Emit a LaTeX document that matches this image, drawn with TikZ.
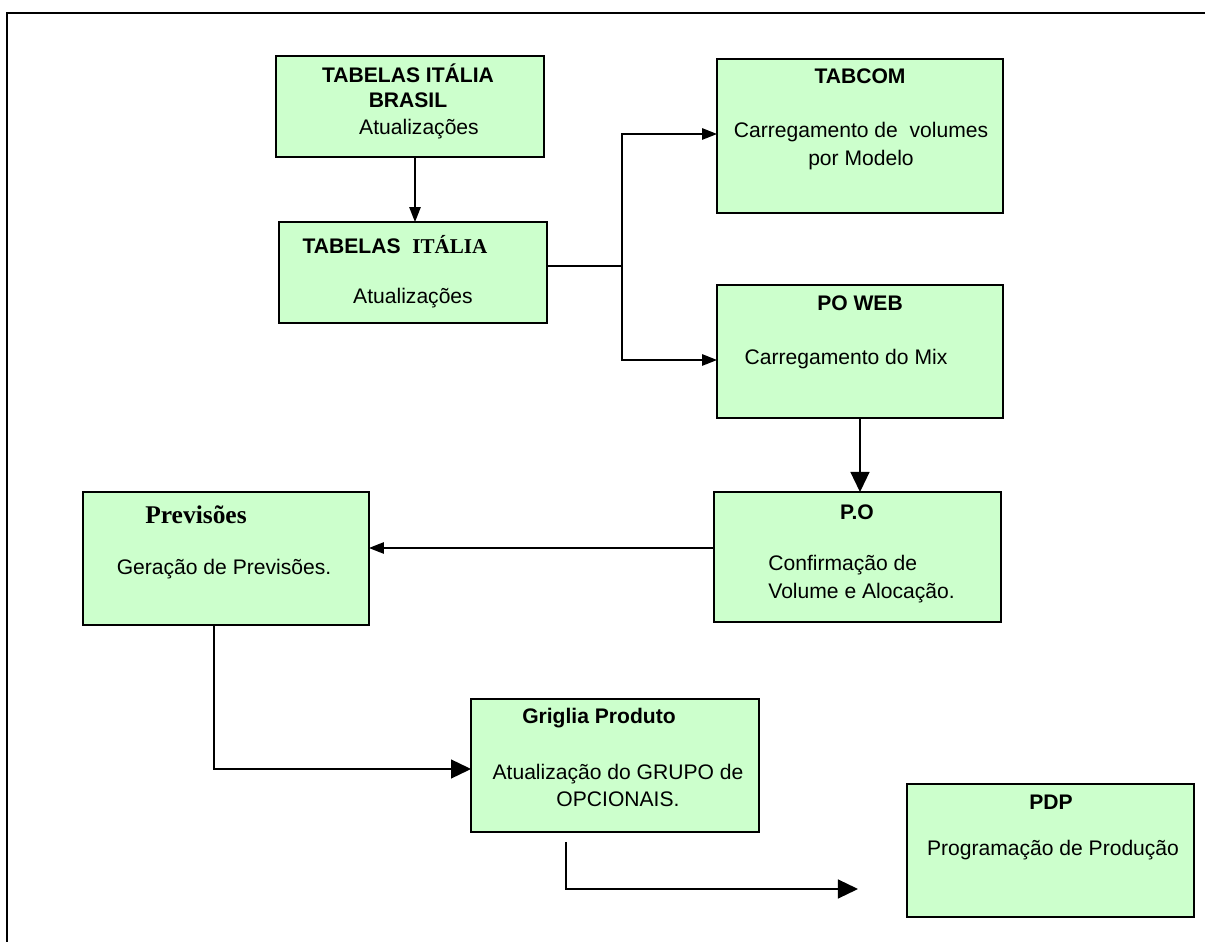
\documentclass[tikz,border=0pt]{standalone}
\usepackage{fontspec}
\setmainfont{Liberation Sans}
\newfontfamily\timesfont{Liberation Serif}
\usepackage{tikz}
\usetikzlibrary{arrows.meta,positioning,calc}
\definecolor{boxgreen}{RGB}{204,255,204}

\begin{document}
\begin{tikzpicture}[x=0.02cm,y=-0.02cm,
    procbox/.style={draw,line width=1.1pt,fill=boxgreen,inner sep=0pt,outer sep=0pt,minimum width=5.72cm,minimum height=2.66cm},
    boxtitle/.style={font=\fontsize{12}{14.2}\selectfont\bfseries,inner sep=0pt,align=center},
    boxtext/.style={font=\fontsize{12}{15.5}\selectfont,inner sep=0pt,align=center},
    flow/.style={line width=0.8pt},
    smallarr/.style={flow,-{Triangle[length=8.5pt,width=6.5pt]}},
    bigarr/.style={flow,-{Triangle[length=11.4pt,width=10.8pt]}}]
    \useasboundingbox (0,0) rectangle (1205,942);
    \draw[line width=1.2pt] (7,960) -- (7,13) -- (1220,13);

    \node[procbox,minimum width=5.36cm,minimum height=2.02cm] (tib) at (410,106.5) {};
    \node[procbox,minimum width=5.36cm,minimum height=2.02cm] (ti) at (413,272.5) {};
    \node[procbox,minimum height=3.08cm] (tabcom) at (860,136) {};
    \node[procbox] (poweb) at (860,351.5) {};
    \node[procbox,minimum width=5.74cm,minimum height=2.6cm] (po) at (857.5,557) {};
    \node[procbox] (prev) at (226,558.5) {};
    \node[procbox,minimum width=5.76cm] (grig) at (615,765.5) {};
    \node[procbox,minimum width=5.74cm] (pdp) at (1050.5,850.5) {};

    \node[boxtitle] (tibtitle) at (408,85.5) {TABELAS ITÁLIA\\BRASIL};
    \node[boxtext] (tibtext) at (419,129) {Atualizações};
    \node[boxtitle] (tititle) at (395,245) {TABELAS\ \ {\timesfont\bfseries ITÁLIA}};
    \node[boxtext] (titext) at (413,298) {Atualizações};
    \node[boxtitle] (tabcomtitle) at (860,76) {TABCOM};
    \node[boxtext] (tabcomtext) at (861,146) {Carregamento de\ \ volumes\\por Modelo};
    \node[boxtitle] (powebtitle) at (860,303) {PO WEB};
    \node[boxtext] (powebtext) at (846,359) {Carregamento do Mix};
    \node[boxtitle] (potitle) at (857,512) {P.O};
    \node[boxtext,align=left,anchor=west] (potext) at (768,579) {Confirmação de\\Volume e Alocação.};
    \node[boxtitle,font=\fontsize{14.5}{16}\selectfont\timesfont\bfseries] (prevtitle) at (196,515) {Previsões};
    \node[boxtext] (prevtext) at (224,569) {Geração de Previsões.};
    \node[boxtitle] (grigtitle) at (599,718) {Griglia Produto};
    \node[boxtext] (grigtext) at (618,785.5) {Atualização do GRUPO de\\OPCIONAIS.};
    \node[boxtitle] (pdptitle) at (1051,802) {PDP};
    \node[boxtext] (pdptext) at (1053,850) {Programação de Produção};

    \coordinate (split) at (622,266);
    \coordinate (gend) at (858,889);
    \draw[smallarr] ([xshift=0.1cm]tib.south) -- ([xshift=0.1cm]tib.south |- ti.north);
    \draw[flow] (ti.east |- split) -- (split);
    \draw[smallarr] (split) |- ([yshift=0.04cm]tabcom.west);
    \draw[smallarr] (split) |- ([yshift=-0.17cm]poweb.west);
    \draw[bigarr] (poweb.south) -- (poweb.south |- po.north);
    \draw[smallarr] ([yshift=0.18cm]po.west) -- ([yshift=0.18cm]po.west -| prev.east);
    \draw[bigarr] ([xshift=-0.24cm]prev.south) |- ([yshift=-0.07cm]grig.west);
    \draw[bigarr] ([shift={(-0.98cm,-0.2cm)}]grig.south) |- (gend);
\end{tikzpicture}
\end{document}
